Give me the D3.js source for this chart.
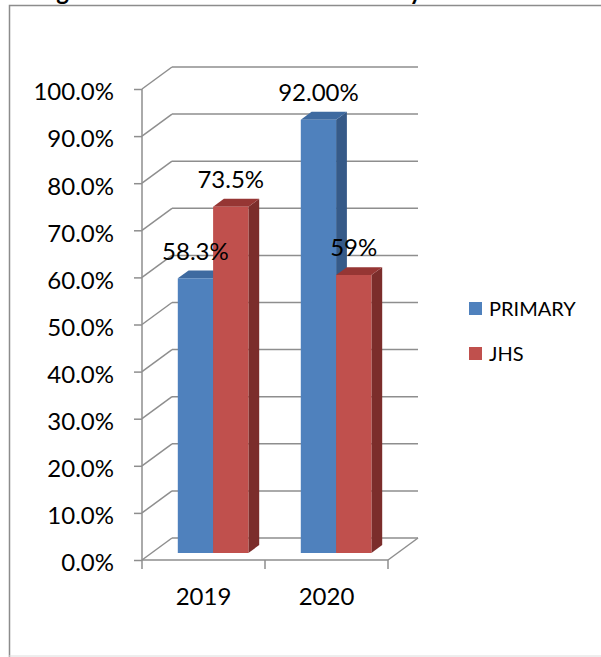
<!DOCTYPE html>
<html lang="en">
<head>
<meta charset="utf-8">
<title>PRIMARY / JHS 3D columns</title>
<script src="https://cdn.jsdelivr.net/npm/d3@7"></script>
<style>
  body { margin: 0; background: #fff; }
  svg text { font-family: Lato, "Open Sans", sans-serif; fill: #000; }
</style>
</head>
<body>
<script>

// data
var categories = ["2019", "2020"];
var seriesNames = ["PRIMARY", "JHS"];
var primaryValues = [0.583, 0.92];
var jhsValues = [0.735, 0.59];
var primaryLabels = ["58.3%", "92.00%"];
var jhsLabels = ["73.5%", "59%"];
var yTicks = [0, 0.1, 0.2, 0.3, 0.4, 0.5, 0.6, 0.7, 0.8, 0.9, 1.0];
var titleText = "Targets attained in the district levels by";

var w = 601, h = 657;

var colors = {
  PRIMARY: { front: "#4f81bd", top: "#3e6aa0", side: "#365a88" },
  JHS:     { front: "#c0504d", top: "#963634", side: "#7b2d2b" }
};

var svg = d3.select("body").append("svg")
    .attr("width", w)
    .attr("height", h);

// frame + cut off title
svg.append("text")
    .attr("x", 25)
    .attr("y", 0)
    .attr("textLength", 397)
    .attr("lengthAdjust", "spacing")
    .style("font-size", "24px")
    .style("font-weight", "bold")
    .text(titleText);

svg.append("path")
    .attr("d", "M9.5,657 V5.5 H601")
    .attr("fill", "none")
    .attr("stroke", "#8c8c8c")
    .attr("stroke-width", 1.5);
svg.append("line")
    .attr("x1", 9).attr("x2", 601).attr("y1", 656).attr("y2", 656)
    .attr("stroke", "#dcdcdc");

// scales: front plane, plus a depth offset for the 3d look
var y = d3.scaleLinear().domain([0, 1]).range([560, 89]);
var x = d3.scaleBand().domain(categories).range([142, 388]);
var xs = d3.scaleBand().domain(seriesNames).range([-35.3, 35.3]);
var depth = { dx: 30, dy: -22 };
var barDepth = [0.32, 0.68];

function pt(px, v, d) {
  return [px + d * depth.dx, y(v) + d * depth.dy];
}
function poly(points) {
  return "M" + points.map(function(p) { return p[0] + "," + p[1]; }).join("L") + "Z";
}

var grid = svg.append("g")
    .attr("fill", "none")
    .attr("stroke", "#8e8e8e")
    .attr("stroke-width", 1.5);

// back wall gridlines + left wall diagonals
yTicks.forEach(function(t) {
  var a = pt(x.range()[0], t, 1), b = pt(x.range()[1], t, 1);
  grid.append("line")
      .attr("x1", a[0]).attr("y1", a[1])
      .attr("x2", b[0]).attr("y2", b[1]);
  var f = pt(x.range()[0], t, 0);
  grid.append("line")
      .attr("x1", f[0]).attr("y1", f[1])
      .attr("x2", a[0]).attr("y2", a[1]);
});

// floor right edge
var fr0 = pt(x.range()[1], 0, 0), fr1 = pt(x.range()[1], 0, 1);
grid.append("line")
    .attr("x1", fr0[0]).attr("y1", fr0[1])
    .attr("x2", fr1[0]).attr("y2", fr1[1]);

// y axis on the front plane
var yAxis = svg.append("g")
    .attr("transform", "translate(" + x.range()[0] + ",0)")
    .call(d3.axisLeft(y)
        .tickValues(yTicks)
        .tickFormat(d3.format(".1%"))
        .tickSize(8)
        .tickPadding(20));
yAxis.selectAll("line, path").attr("stroke", "#8e8e8e").attr("stroke-width", 1.5);
yAxis.select(".domain").attr("d", "M0," + y(1) + "V" + y(0));
yAxis.selectAll("text")
    .attr("dy", "0.45em")
    .style("font-size", "24px")
    .style("font-family", "Lato, sans-serif")
    .attr("fill", "#000");

// x axis: labels at band centres, ticks on band edges
var xAxis = svg.append("g")
    .attr("transform", "translate(0," + y(0) + ")")
    .call(d3.axisBottom(x).tickSize(0));
xAxis.select(".domain").remove();
xAxis.selectAll("text")
    .attr("y", 36)
    .attr("dy", "0.36em")
    .style("font-size", "24px")
    .style("font-family", "Lato, sans-serif")
    .attr("fill", "#000");
xAxis.append("line")
    .attr("x1", x.range()[0]).attr("x2", x.range()[1])
    .attr("stroke", "#8e8e8e").attr("stroke-width", 1.5);
var edges = categories.map(function(c) { return x(c); }).concat([x.range()[1]]);
xAxis.selectAll(".edge")
    .data(edges)
    .enter()
    .append("line")
    .attr("class", "edge")
    .attr("x1", function(d) { return d; })
    .attr("x2", function(d) { return d; })
    .attr("y1", 0).attr("y2", 9)
    .attr("stroke", "#8e8e8e").attr("stroke-width", 1.5);

// bars
var bars = [];
categories.forEach(function(c, i) {
  bars.push({ cat: c, series: "PRIMARY", value: primaryValues[i], label: primaryLabels[i] });
  bars.push({ cat: c, series: "JHS", value: jhsValues[i], label: jhsLabels[i] });
});

var barG = svg.selectAll(".bar")
    .data(bars)
    .enter()
    .append("g")
    .attr("class", "bar");

function x0(d) { return x(d.cat) + x.bandwidth() / 2 + xs(d.series); }
function x1(d) { return x0(d) + xs.bandwidth(); }

barG.append("path")
    .attr("fill", function(d) { return colors[d.series].side; })
    .attr("d", function(d) {
      return poly([pt(x1(d), 0, barDepth[0]), pt(x1(d), 0, barDepth[1]),
                   pt(x1(d), d.value, barDepth[1]), pt(x1(d), d.value, barDepth[0])]);
    });
barG.append("path")
    .attr("fill", function(d) { return colors[d.series].top; })
    .attr("d", function(d) {
      return poly([pt(x0(d), d.value, barDepth[0]), pt(x1(d), d.value, barDepth[0]),
                   pt(x1(d), d.value, barDepth[1]), pt(x0(d), d.value, barDepth[1])]);
    });
barG.append("path")
    .attr("fill", function(d) { return colors[d.series].front; })
    .attr("d", function(d) {
      return poly([pt(x0(d), 0, barDepth[0]), pt(x1(d), 0, barDepth[0]),
                   pt(x1(d), d.value, barDepth[0]), pt(x0(d), d.value, barDepth[0])]);
    });

// value labels
svg.selectAll(".vlabel")
    .data(bars)
    .enter()
    .append("text")
    .attr("class", "vlabel")
    .attr("text-anchor", "middle")
    .attr("x", function(d) { return pt((x0(d) + x1(d)) / 2, d.value, barDepth[0])[0]; })
    .attr("y", function(d) { return pt(0, d.value, barDepth[0])[1] - 27.5; })
    .attr("dy", "0.36em")
    .style("font-size", "24px")
    .text(function(d) { return d.label; });

// legend
var legend = svg.selectAll(".legend")
    .data(seriesNames)
    .enter()
    .append("g")
    .attr("class", "legend")
    .attr("transform", function(d, i) { return "translate(469," + (302 + i * 45) + ")"; });
legend.append("rect")
    .attr("width", 13).attr("height", 13)
    .attr("fill", function(d) { return colors[d].front; });
legend.append("text")
    .attr("x", 20).attr("y", 7)
    .attr("dy", "0.36em")
    .style("font-size", "20px")
    .text(function(d) { return d; });

</script>
</body>
</html>
